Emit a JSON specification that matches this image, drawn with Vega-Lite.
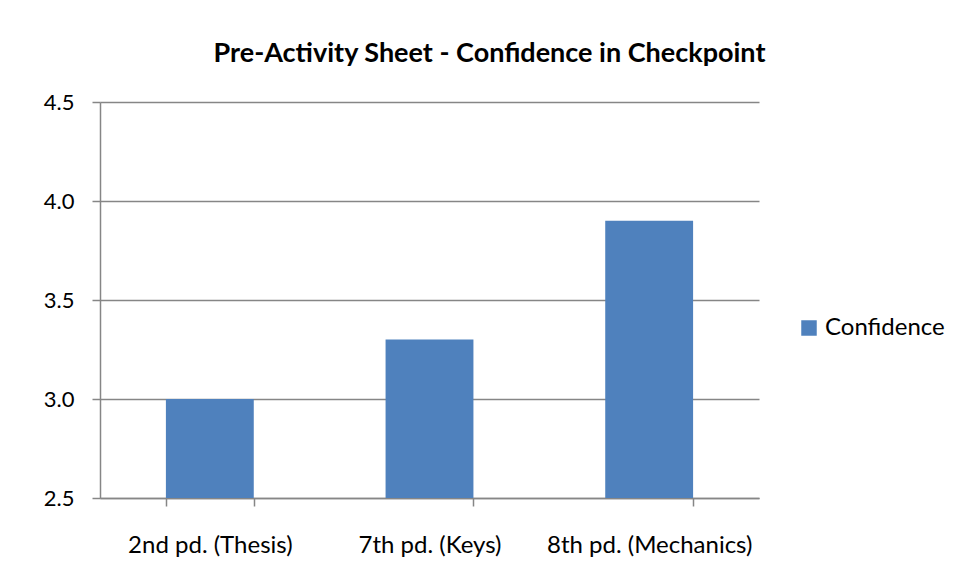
{
  "$schema": "https://vega.github.io/schema/vega-lite/v6.json",
  "width": 659,
  "height": 396,
  "autosize": {"type": "none"},
  "padding": {"left": 100, "top": 102, "right": 199, "bottom": 83},
  "background": "white",
  "title": {
    "text": "Pre-Activity Sheet - Confidence in Checkpoint",
    "font": "Lato",
    "fontSize": 27,
    "fontWeight": "bold",
    "color": "#000000",
    "anchor": "middle",
    "dx": 60,
    "offset": 23
  },
  "data": {
    "values": [
      {"period": "2nd pd. (Thesis)", "series": "Confidence", "value": 3.0},
      {"period": "7th pd. (Keys)", "series": "Confidence", "value": 3.3},
      {"period": "8th pd. (Mechanics)", "series": "Confidence", "value": 3.9}
    ]
  },
  "mark": {"type": "bar", "clip": true},
  "encoding": {
    "x": {
      "field": "period",
      "type": "nominal",
      "sort": null,
      "title": null,
      "scale": {"paddingInner": 0.6, "paddingOuter": 0.3},
      "axis": {
        "labelAngle": 0,
        "labelFont": "Lato",
        "labelFontSize": 24,
        "labelColor": "#000000",
        "labelPadding": 27,
        "labelLimit": 400,
        "labelOverlap": false,
        "tickBand": "extent",
        "tickSize": 8,
        "tickColor": "#868686",
        "domainColor": "#868686",
        "domainWidth": 1.5,
        "tickWidth": 1.5,
        "grid": false
      }
    },
    "y": {
      "field": "value",
      "type": "quantitative",
      "title": null,
      "scale": {"domain": [2.5, 4.5], "zero": false, "nice": false},
      "axis": {
        "values": [2.5, 3.0, 3.5, 4.0, 4.5],
        "format": ".1f",
        "labelFont": "Lato",
        "labelFontSize": 22,
        "labelColor": "#000000",
        "labelPadding": 18,
        "tickSize": 8,
        "tickColor": "#868686",
        "tickWidth": 1.5,
        "domainColor": "#868686",
        "domainWidth": 1.5,
        "grid": true,
        "gridColor": "#868686",
        "gridWidth": 1.5
      }
    },
    "color": {
      "field": "series",
      "type": "nominal",
      "scale": {"range": ["#4F81BD"]},
      "legend": {
        "title": null,
        "orient": "none",
        "legendX": 697,
        "legendY": 214,
        "symbolType": "square",
        "symbolSize": 240,
        "symbolStrokeWidth": 0,
        "labelFont": "Lato",
        "labelFontSize": 24,
        "labelColor": "#000000",
        "labelOffset": 4,
        "labelLimit": 300
      }
    }
  },
  "config": {
    "view": {"stroke": null},
    "bar": {"color": "#4F81BD"}
  }
}
